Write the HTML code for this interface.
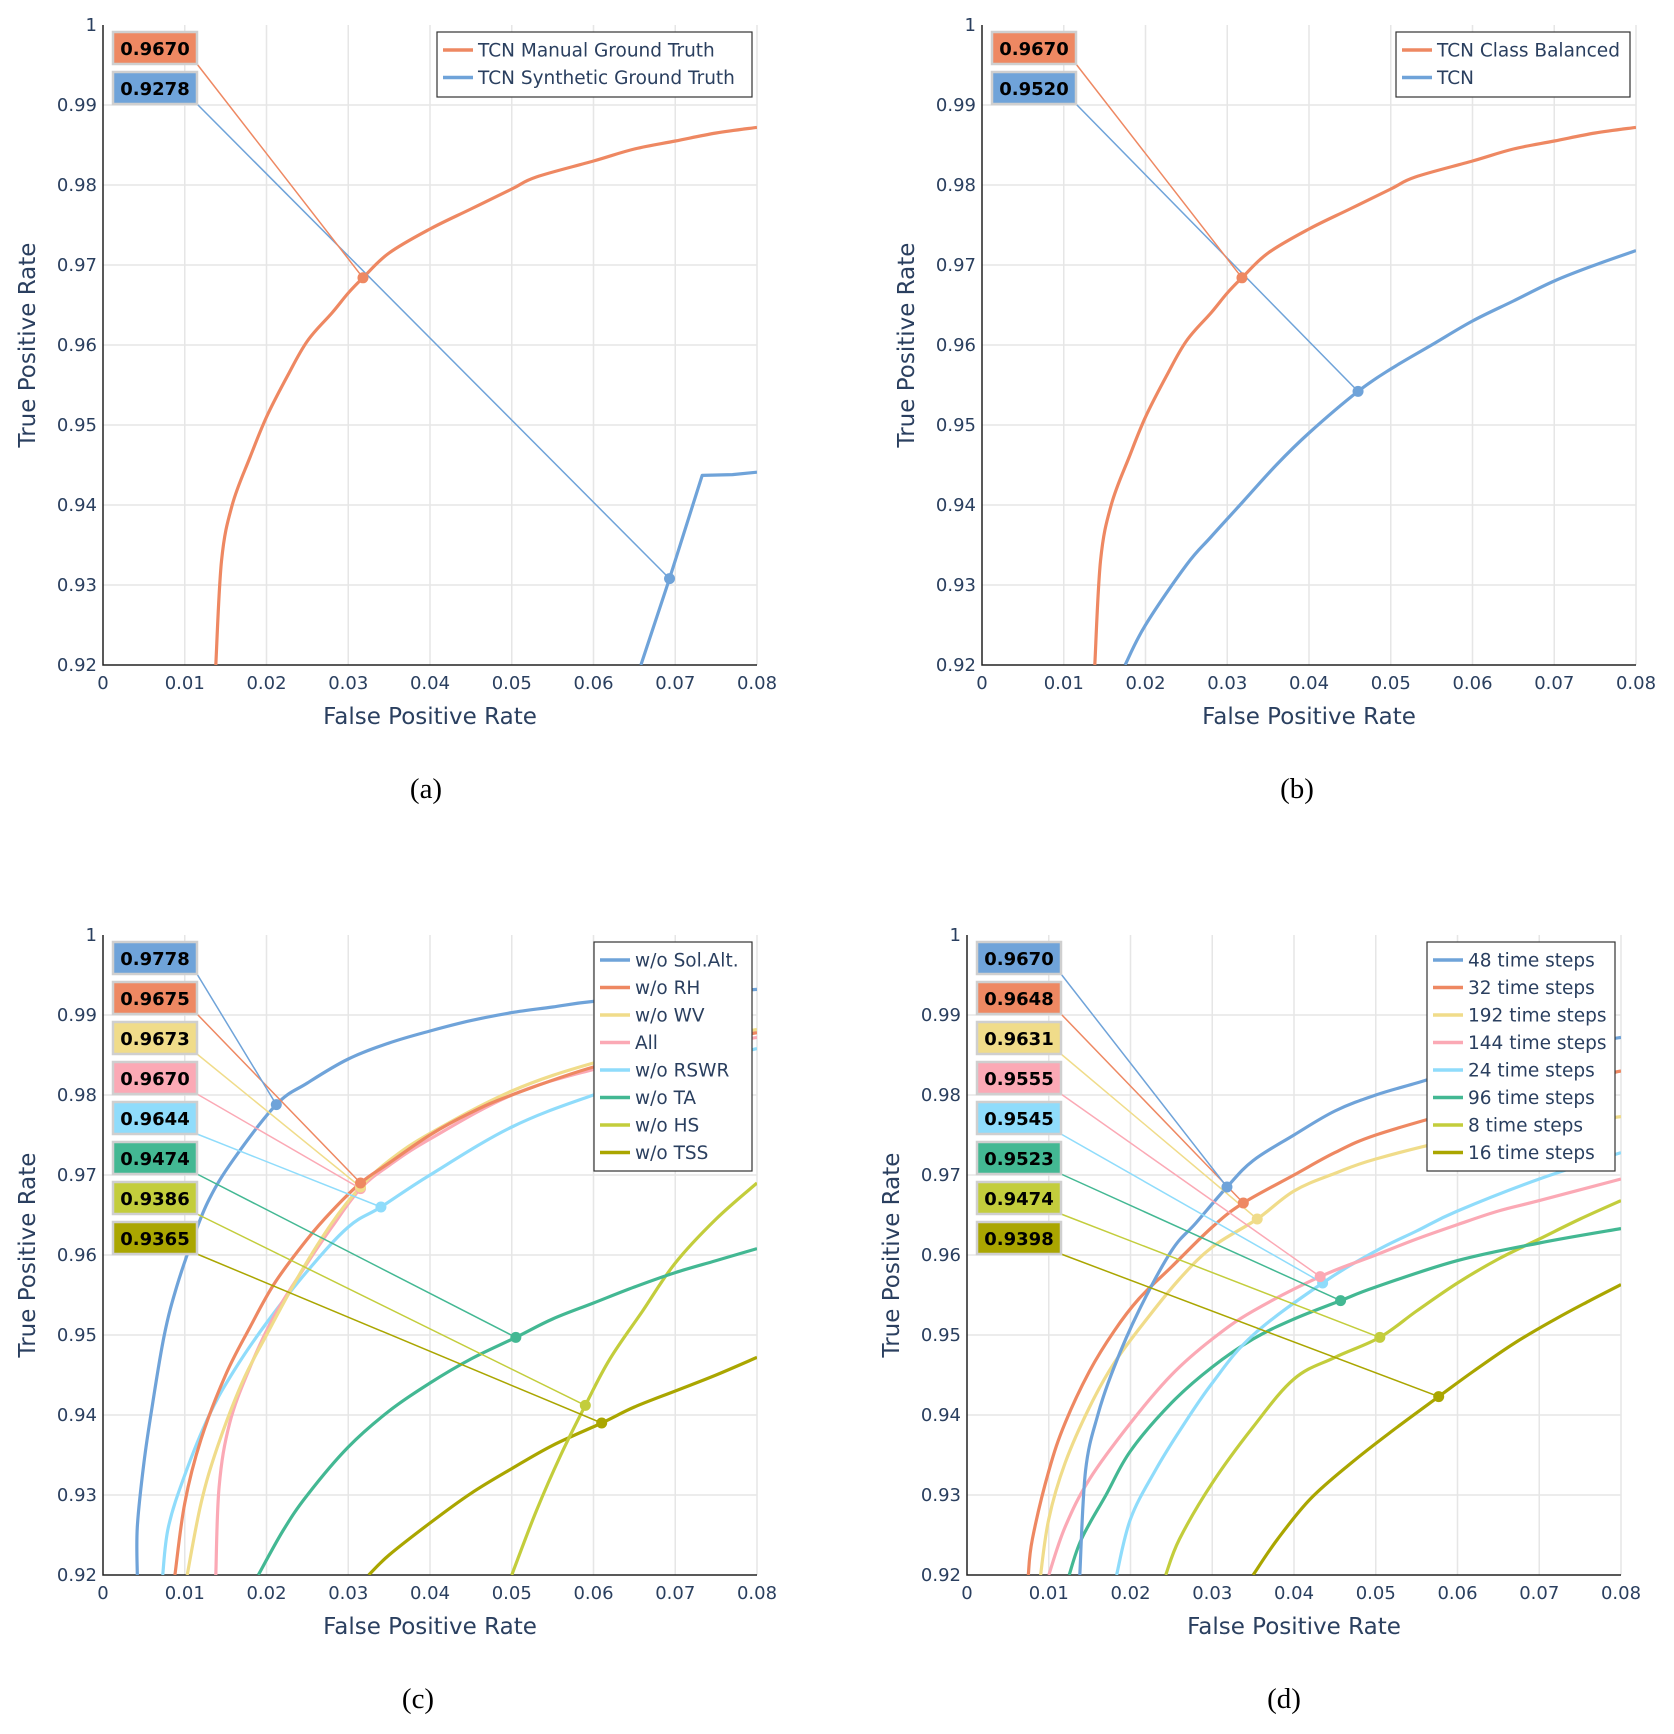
<!DOCTYPE html>
<html><head><meta charset="utf-8">
<style>
body{margin:0;background:#fff}
svg{display:block;font-family:"DejaVu Sans","Liberation Sans",sans-serif}
</style></head>
<body>
<svg id="fig" width="1674" height="1734" viewBox="0 0 1674 1734" xmlns="http://www.w3.org/2000/svg"></svg>
<script>
// ---- data ----
const xTicks=[0,0.01,0.02,0.03,0.04,0.05,0.06,0.07,0.08];
const xTickLabels=["0","0.01","0.02","0.03","0.04","0.05","0.06","0.07","0.08"];
const yTicks=[0.92,0.93,0.94,0.95,0.96,0.97,0.98,0.99,1];
const yTickLabels=["0.92","0.93","0.94","0.95","0.96","0.97","0.98","0.99","1"];

const aNames=["TCN Manual Ground Truth","TCN Synthetic Ground Truth"];
const aLabels=["0.9670","0.9278"];
const aManual=[[0.0138,0.92],[0.0145,0.933],[0.0158,0.940],[0.018,0.946],[0.020,0.951],[0.0225,0.956],[0.025,0.9605],[0.028,0.964],[0.030,0.9665],[0.0318,0.9684],[0.035,0.9715],[0.040,0.9745],[0.045,0.977],[0.050,0.9795],[0.053,0.981],[0.060,0.983],[0.065,0.9845],[0.070,0.9855],[0.075,0.9865],[0.080,0.9872]];
const aSynth=[[0.0658,0.92],[0.0693,0.9308],[0.0733,0.9437],[0.077,0.9438],[0.080,0.9441]];
const aPoints=[[0.0318,0.9684],[0.0693,0.9308]];

const bNames=["TCN Class Balanced","TCN"];
const bLabels=["0.9670","0.9520"];
const bBal=aManual;
const bTcn=[[0.0175,0.92],[0.020,0.925],[0.025,0.9325],[0.028,0.936],[0.032,0.9405],[0.036,0.945],[0.040,0.949],[0.046,0.9542],[0.050,0.957],[0.055,0.960],[0.060,0.963],[0.065,0.9655],[0.070,0.968],[0.075,0.970],[0.080,0.9718]];
const bPoints=[[0.0318,0.9684],[0.046,0.9542]];

const cNames=["w/o Sol.Alt.","w/o RH","w/o WV","All","w/o RSWR","w/o TA","w/o HS","w/o TSS"];
const cLabels=["0.9778","0.9675","0.9673","0.9670","0.9644","0.9474","0.9386","0.9365"];
const cSol=[[0.0042,0.92],[0.0042,0.926],[0.005,0.934],[0.006,0.941],[0.0075,0.950],[0.009,0.956],[0.011,0.962],[0.013,0.967],[0.016,0.972],[0.0212,0.9788],[0.025,0.9815],[0.030,0.9845],[0.035,0.9865],[0.040,0.988],[0.045,0.9893],[0.050,0.9903],[0.055,0.991],[0.060,0.9917],[0.070,0.9925],[0.080,0.9932]];
const cRH=[[0.0088,0.92],[0.010,0.929],[0.012,0.937],[0.015,0.945],[0.018,0.951],[0.021,0.9565],[0.025,0.962],[0.028,0.9655],[0.0315,0.969],[0.035,0.9715],[0.040,0.975],[0.045,0.9778],[0.050,0.980],[0.060,0.9835],[0.070,0.9858],[0.080,0.9878]];
const cWV=[[0.0103,0.92],[0.012,0.929],[0.014,0.936],[0.017,0.944],[0.020,0.950],[0.024,0.9575],[0.028,0.964],[0.0315,0.9685],[0.035,0.9718],[0.040,0.9752],[0.050,0.9805],[0.060,0.984],[0.070,0.9863],[0.080,0.9882]];
const cAll=[[0.0138,0.92],[0.0142,0.931],[0.0155,0.939],[0.018,0.946],[0.021,0.9525],[0.025,0.959],[0.028,0.9635],[0.0315,0.9683],[0.035,0.9712],[0.040,0.9745],[0.050,0.980],[0.060,0.9832],[0.070,0.9855],[0.080,0.9872]];
const cRSWR=[[0.0073,0.92],[0.008,0.926],[0.010,0.9325],[0.013,0.940],[0.016,0.9455],[0.020,0.9515],[0.025,0.958],[0.030,0.9635],[0.034,0.966],[0.040,0.970],[0.050,0.976],[0.060,0.980],[0.070,0.9832],[0.080,0.9858]];
const cTA=[[0.019,0.92],[0.022,0.9255],[0.025,0.930],[0.030,0.936],[0.035,0.9405],[0.040,0.944],[0.045,0.947],[0.0505,0.9497],[0.055,0.952],[0.060,0.954],[0.065,0.956],[0.070,0.9578],[0.075,0.9593],[0.080,0.9608]];
const cHS=[[0.050,0.92],[0.053,0.928],[0.056,0.935],[0.059,0.9412],[0.062,0.947],[0.066,0.953],[0.070,0.959],[0.075,0.9645],[0.080,0.969]];
const cTSS=[[0.0325,0.92],[0.035,0.9225],[0.040,0.9265],[0.045,0.9302],[0.050,0.9333],[0.055,0.9362],[0.061,0.939],[0.065,0.941],[0.070,0.943],[0.075,0.945],[0.080,0.9472]];
const cPoints=[[0.0212,0.9788],[0.0315,0.969],[0.0315,0.9685],[0.0315,0.9683],[0.034,0.966],[0.0505,0.9497],[0.059,0.9412],[0.061,0.939]];

const dNames=["48 time steps","32 time steps","192 time steps","144 time steps","24 time steps","96 time steps","8 time steps","16 time steps"];
const dLabels=["0.9670","0.9648","0.9631","0.9555","0.9545","0.9523","0.9474","0.9398"];
const d48=[[0.0138,0.92],[0.0145,0.933],[0.016,0.940],[0.018,0.946],[0.021,0.953],[0.025,0.9605],[0.028,0.964],[0.0318,0.9685],[0.035,0.9718],[0.040,0.975],[0.045,0.978],[0.050,0.980],[0.055,0.9815],[0.060,0.983],[0.070,0.9855],[0.080,0.9872]];
const d32=[[0.0075,0.92],[0.008,0.9245],[0.010,0.933],[0.012,0.939],[0.015,0.9455],[0.018,0.9505],[0.021,0.9545],[0.025,0.9585],[0.030,0.9635],[0.0338,0.9665],[0.040,0.970],[0.045,0.9728],[0.050,0.975],[0.060,0.978],[0.070,0.9808],[0.080,0.983]];
const d192=[[0.009,0.92],[0.010,0.927],[0.012,0.934],[0.015,0.941],[0.018,0.9465],[0.022,0.952],[0.026,0.957],[0.030,0.961],[0.0355,0.9645],[0.040,0.968],[0.045,0.9702],[0.050,0.972],[0.060,0.9745],[0.070,0.976],[0.080,0.9773]];
const d144=[[0.010,0.92],[0.012,0.926],[0.015,0.932],[0.020,0.939],[0.025,0.945],[0.030,0.9495],[0.035,0.953],[0.0432,0.9573],[0.050,0.960],[0.055,0.962],[0.060,0.9638],[0.065,0.9655],[0.070,0.9668],[0.080,0.9695]];
const d24=[[0.0183,0.92],[0.020,0.927],[0.023,0.933],[0.026,0.938],[0.030,0.944],[0.035,0.950],[0.0435,0.9565],[0.050,0.9605],[0.055,0.963],[0.060,0.9655],[0.070,0.9695],[0.080,0.9728]];
const d96=[[0.0125,0.92],[0.014,0.9245],[0.017,0.930],[0.020,0.9355],[0.025,0.9415],[0.030,0.946],[0.035,0.9495],[0.040,0.952],[0.0457,0.9543],[0.050,0.956],[0.060,0.9593],[0.070,0.9615],[0.080,0.9633]];
const d8=[[0.0243,0.92],[0.026,0.9245],[0.030,0.9315],[0.035,0.9385],[0.040,0.9445],[0.045,0.9472],[0.0505,0.9497],[0.055,0.953],[0.060,0.9565],[0.065,0.9595],[0.070,0.962],[0.075,0.9645],[0.080,0.9668]];
const d16=[[0.035,0.92],[0.038,0.9245],[0.042,0.9295],[0.047,0.934],[0.052,0.938],[0.0577,0.9423],[0.062,0.9455],[0.067,0.949],[0.072,0.952],[0.076,0.9542],[0.080,0.9563]];
const dPoints=[[0.0318,0.9685],[0.0338,0.9665],[0.0355,0.9645],[0.0432,0.9573],[0.0435,0.9565],[0.0457,0.9543],[0.0505,0.9497],[0.0577,0.9423]];

// ---- drawing ----
const NS="http://www.w3.org/2000/svg";
const svg=document.getElementById('fig');
const C8=["#6fa3d9","#ee8862","#f0dc8a","#fba9b5","#8fdcfb","#43b893","#c3cd3c","#aaa600"];
function el(tag,attrs,parent){const e=document.createElementNS(NS,tag);for(const k in attrs)e.setAttribute(k,attrs[k]);(parent||svg).appendChild(e);return e;}
function smooth(P){
  if(P.length<=5) return P.map((p,j)=>(j?'L':'M')+p[0].toFixed(1)+','+p[1].toFixed(1)).join(' ');
  let d='M'+P[0][0].toFixed(1)+','+P[0][1].toFixed(1);
  for(let i=0;i<P.length-1;i++){
    const p0=P[Math.max(0,i-1)],p1=P[i],p2=P[i+1],p3=P[Math.min(P.length-1,i+2)];
    const t=0.175;
    const c1=[p1[0]+(p2[0]-p0[0])*t,p1[1]+(p2[1]-p0[1])*t];
    const c2=[p2[0]-(p3[0]-p1[0])*t,p2[1]-(p3[1]-p1[1])*t];
    d+=` C${c1[0].toFixed(1)},${c1[1].toFixed(1)} ${c2[0].toFixed(1)},${c2[1].toFixed(1)} ${p2[0].toFixed(1)},${p2[1].toFixed(1)}`;
  }
  return d;
}

function panel(id,L,R,T,B,series,names,labels,points,colors,leg,cap){
  const g=el('g',{});
  
  
  const sx=v=>L+(v-0)/(0.08)*(R-L);
  const sy=v=>B-(v-0.92)/(0.08)*(B-T);
  const clip=el('clipPath',{id:'clip'+id},g);
  el('rect',{x:L,y:T,width:R-L,height:B-T},clip);
  xTicks.forEach((t,i)=>{
    if(i>0){const gl=el('line',{x1:sx(t),x2:sx(t),y1:T,y2:B,stroke:'#e6e6e6','stroke-width':1.5},g);
    }
    const tx=el('text',{x:sx(t),y:B+24,'font-size':18,fill:'#2a3f5f','text-anchor':'middle'},g);
    tx.textContent=xTickLabels[i];
    
  });
  yTicks.forEach((t,i)=>{
    if(i>0&&i<yTicks.length-1){const gl=el('line',{x1:L,x2:R,y1:sy(t),y2:sy(t),stroke:'#e6e6e6','stroke-width':1.5},g);
    }
    const tx=el('text',{x:L-6,y:sy(t)+6,'font-size':18,fill:'#2a3f5f','text-anchor':'end'},g);
    tx.textContent=yTickLabels[i];
    
  });
  const ax=el('path',{d:`M${L},${T} V${B} H${R}`,fill:'none',stroke:'#222','stroke-width':1.5},g);
  
  const xt=el('text',{x:(L+R)/2,y:B+59,'font-size':23,fill:'#2a3f5f','text-anchor':'middle'},g);
  xt.textContent='False Positive Rate';
  
  const yc=(T+B)/2;
  const yt=el('text',{x:L-68,y:yc,'font-size':23,fill:'#2a3f5f','text-anchor':'middle',transform:`rotate(-90 ${L-68} ${yc})`},g);
  yt.textContent='True Positive Rate';
  
  for(let i=series.length-1;i>=0;i--){
    const P=series[i].map(p=>[sx(p[0]),sy(p[1])]);
    const pth=el('path',{d:smooth(P),fill:'none',stroke:colors[i],'stroke-width':3.2,'stroke-linejoin':'round','clip-path':`url(#clip${id})`},g);
    
    
  }
  for(let i=series.length-1;i>=0;i--){
    const bx=L+10,by=T+7+40*i,bw=84,bh=32;
    const ln=el('line',{x1:bx+bw,y1:by+bh,x2:sx(points[i][0]),y2:sy(points[i][1]),stroke:colors[i],'stroke-width':1.5},g);
    
    const pt=el('circle',{cx:sx(points[i][0]),cy:sy(points[i][1]),r:5.5,fill:colors[i]},g);
    
    const r=el('rect',{x:bx,y:by,width:bw,height:bh,fill:colors[i],stroke:'#cfcfcf','stroke-width':2.5},g);
    
    const tx=el('text',{x:bx+bw/2,y:by+23,'font-size':18,'font-weight':'bold',fill:'#000','text-anchor':'middle'},g);
    tx.textContent=labels[i];
    
  }
  const lg=el('g',{},g);
  
  el('rect',{x:leg[0],y:leg[1],width:leg[2],height:leg[3],fill:'#fff',stroke:'#333','stroke-width':1.2},lg);
  names.forEach((n,i)=>{
    const yy=leg[1]+18+27.5*i;
    const ls=el('line',{x1:leg[0]+6,x2:leg[0]+36,y1:yy,y2:yy,stroke:colors[i],'stroke-width':3.5},lg);
    
    const tx=el('text',{x:leg[0]+41,y:yy+6.5,'font-size':18.5,fill:'#2a3f5f'},lg);
    tx.textContent=n;
    
  });
  const ct=el('text',{x:cap[0],y:cap[1],'font-size':29,'font-family':'"Liberation Serif",serif',fill:'#000','text-anchor':'middle'},g);
  ct.textContent=cap[2];
  
}
panel('a',103,757,25,665,[aManual,aSynth],aNames,aLabels,aPoints,[C8[1],C8[0]],[437,32,315,65],[426,798,'(a)']);
panel('b',982,1636,25,665,[bBal,bTcn],bNames,bLabels,bPoints,[C8[1],C8[0]],[1396,32,234,65],[1297,798,'(b)']);
panel('c',103,757,935,1575,[cSol,cRH,cWV,cAll,cRSWR,cTA,cHS,cTSS],cNames,cLabels,cPoints,C8,[594,942,158,229],[418,1708,'(c)']);
panel('d',967,1621,935,1575,[d48,d32,d192,d144,d24,d96,d8,d16],dNames,dLabels,dPoints,C8,[1427,942,188,229],[1284,1708,'(d)']);
</script>
</body></html>
